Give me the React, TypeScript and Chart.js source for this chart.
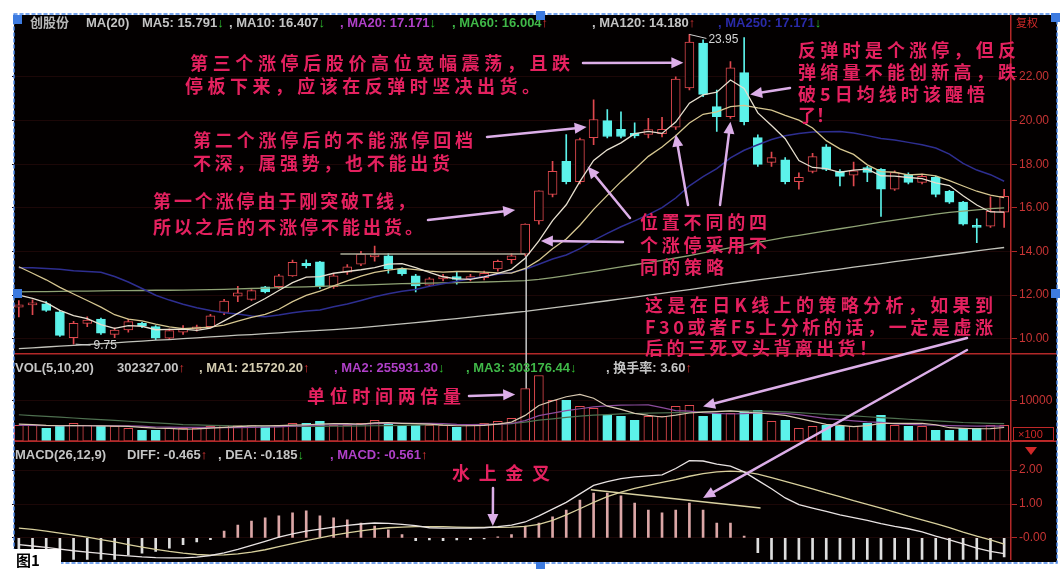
import React, { useEffect, useRef } from 'react';
import { Chart, registerables } from 'chart.js';

Chart.register(...registerables);

// ---------------- data ----------------
const OPEN = [11.45, 11.55, 11.6, 11.23, 10.05, 10.7, 10.9, 10.2, 10.4, 10.7, 10.55, 10.02, 10.3, 10.45, 10.55, 11.2, 11.95, 11.8, 12.38, 12.38, 12.88, 13.45, 13.52, 12.38, 13.05, 13.42, 13.75, 13.8, 13.2, 12.88, 12.45, 12.74, 12.85, 12.75, 12.8, 13.2, 13.62, 13.88, 15.4, 16.62, 18.13, 17.2, 19.22, 20.0, 19.6, 19.42, 19.36, 19.4, 19.7, 21.5, 23.55, 20.64, 20.18, 22.2, 19.22, 18.08, 18.2, 17.2, 17.67, 18.8, 17.67, 17.5, 17.85, 17.76, 16.85, 17.53, 17.17, 17.4, 16.76, 16.26, 15.15, 15.16, 15.8];
const HIGH = [11.75, 11.78, 11.7, 11.3, 10.8, 11.0, 10.95, 10.5, 10.9, 10.75, 10.6, 10.45, 10.6, 10.62, 11.12, 11.8, 12.4, 12.25, 12.4, 12.95, 13.6, 13.62, 13.55, 12.95, 13.4, 14.0, 14.25, 13.9, 13.25, 12.95, 12.8, 12.95, 13.05, 12.95, 13.1, 13.6, 13.9, 15.27, 16.78, 18.13, 19.36, 19.2, 20.95, 20.5, 20.4, 19.9, 20.1, 20.15, 22.0, 23.95, 23.7, 21.4, 22.7, 23.8, 19.35, 18.55, 18.3, 17.6, 18.5, 18.9, 17.75, 18.1, 17.9, 17.8, 17.7, 17.6, 17.55, 17.45, 16.8, 16.3, 15.5, 16.5, 16.85];
const LOW = [11.0, 11.1, 11.25, 10.1, 9.75, 10.55, 10.2, 10.05, 10.3, 10.5, 9.95, 9.95, 10.2, 10.35, 10.5, 11.1, 11.7, 11.75, 12.1, 12.3, 12.85, 13.25, 12.3, 12.3, 12.95, 13.35, 13.55, 13.0, 12.9, 12.15, 12.4, 12.65, 12.5, 12.65, 12.7, 13.1, 13.45, 13.8, 15.25, 16.5, 17.1, 17.1, 18.9, 19.2, 19.2, 19.2, 19.2, 19.25, 19.6, 21.4, 21.1, 19.5, 20.1, 19.8, 17.9, 17.9, 17.1, 16.85, 17.6, 17.7, 17.0, 17.0, 17.2, 15.6, 16.8, 17.1, 17.1, 16.5, 16.2, 15.2, 14.4, 15.1, 15.1];
const CLOSE = [11.55, 11.62, 11.3, 10.15, 10.7, 10.85, 10.25, 10.4, 10.78, 10.58, 10.02, 10.37, 10.45, 10.5, 11.05, 11.72, 12.1, 12.2, 12.15, 12.88, 13.5, 13.35, 12.38, 12.88, 13.3, 13.88, 13.85, 13.2, 12.97, 12.42, 12.74, 12.85, 12.72, 12.85, 13.0, 13.55, 13.8, 15.25, 16.78, 17.67, 17.2, 19.13, 20.05, 19.27, 19.27, 19.3, 19.59, 19.6, 21.9, 23.6, 21.2, 20.18, 22.42, 19.95, 17.99, 18.3, 17.2, 17.4, 18.35, 17.76, 17.44, 17.7, 17.62, 16.85, 17.62, 17.17, 17.44, 16.62, 16.26, 15.25, 15.1, 15.84, 16.53];

const MA5 = [12.0, 11.85, 11.65, 11.3, 11.06, 10.92, 10.65, 10.47, 10.6, 10.57, 10.41, 10.43, 10.44, 10.38, 10.48, 10.82, 11.16, 11.51, 11.84, 12.21, 12.57, 12.82, 12.85, 13.0, 13.08, 13.16, 13.26, 13.42, 13.44, 13.26, 13.04, 12.84, 12.74, 12.72, 12.83, 12.99, 13.18, 13.69, 14.48, 15.41, 16.14, 17.21, 18.17, 18.66, 18.98, 19.4, 19.5, 19.41, 19.93, 20.8, 21.18, 21.3, 21.86, 21.47, 20.35, 19.77, 19.17, 18.17, 17.85, 17.8, 17.63, 17.73, 17.77, 17.47, 17.45, 17.39, 17.34, 17.14, 17.02, 16.55, 16.13, 15.81, 15.8];
const MA10 = [13.3, 13.0, 12.7, 12.35, 12.05, 11.75, 11.45, 11.1, 10.9, 10.82, 10.67, 10.54, 10.46, 10.49, 10.53, 10.62, 10.8, 10.98, 11.11, 11.35, 11.7, 11.99, 12.18, 12.42, 12.65, 12.87, 13.04, 13.14, 13.22, 13.17, 13.1, 13.05, 13.08, 13.08, 13.05, 13.02, 13.01, 13.22, 13.6, 14.12, 14.57, 15.2, 15.93, 16.57, 17.2, 17.77, 18.36, 18.79, 19.3, 19.89, 20.29, 20.4, 20.64, 20.7, 20.58, 20.48, 20.24, 20.02, 19.66, 19.08, 18.7, 18.45, 17.97, 17.66, 17.63, 17.51, 17.54, 17.46, 17.25, 17.0, 16.76, 16.58, 16.47];
const MA20 = [13.25, 13.25, 13.22, 13.18, 13.12, 13.08, 13.05, 12.85, 12.6, 12.3, 11.99, 11.77, 11.58, 11.42, 11.29, 11.19, 11.13, 11.04, 11.01, 11.09, 11.19, 11.27, 11.32, 11.46, 11.59, 11.75, 11.92, 12.06, 12.17, 12.26, 12.4, 12.52, 12.63, 12.75, 12.85, 12.95, 13.03, 13.18, 13.41, 13.65, 13.84, 14.13, 14.51, 14.83, 15.13, 15.4, 15.69, 16.01, 16.45, 17.01, 17.43, 17.8, 18.29, 18.64, 18.89, 19.13, 19.3, 19.41, 19.48, 19.49, 19.5, 19.43, 19.31, 19.18, 19.11, 19.0, 18.89, 18.74, 18.46, 18.04, 17.73, 17.52, 17.22];
const MA60 = [12.15, 12.16, 12.16, 12.17, 12.18, 12.18, 12.19, 12.2, 12.2, 12.21, 12.22, 12.22, 12.23, 12.24, 12.25, 12.26, 12.28, 12.3, 12.32, 12.34, 12.36, 12.38, 12.4, 12.42, 12.44, 12.46, 12.48, 12.5, 12.52, 12.53, 12.55, 12.56, 12.57, 12.58, 12.6, 12.62, 12.64, 12.66, 12.72, 12.8, 12.89, 12.99, 13.09, 13.19, 13.29, 13.39, 13.49, 13.59, 13.7, 13.81, 13.93, 14.05, 14.17, 14.29, 14.42, 14.53, 14.64, 14.74, 14.84, 14.94, 15.04, 15.14, 15.24, 15.34, 15.44, 15.53, 15.62, 15.71, 15.79, 15.85, 15.91, 15.96, 16.0];
const MA120 = [9.54, 9.58, 9.62, 9.66, 9.69, 9.73, 9.77, 9.81, 9.85, 9.89, 9.93, 9.96, 10.0, 10.04, 10.08, 10.12, 10.16, 10.19, 10.23, 10.27, 10.31, 10.35, 10.38, 10.42, 10.46, 10.51, 10.56, 10.62, 10.68, 10.74, 10.8, 10.86, 10.92, 10.99, 11.06, 11.12, 11.19, 11.25, 11.33, 11.41, 11.49, 11.57, 11.66, 11.74, 11.83, 11.91, 12.0, 12.08, 12.17, 12.25, 12.34, 12.43, 12.52, 12.61, 12.7, 12.78, 12.86, 12.94, 13.03, 13.11, 13.19, 13.28, 13.36, 13.44, 13.53, 13.61, 13.69, 13.78, 13.86, 13.94, 14.03, 14.11, 14.18];

// volume in units of 100 shares
const VOL = [3900, 3900, 3170, 3900, 4390, 3900, 3660, 3660, 3170, 2680, 2680, 3170, 3170, 3170, 3660, 3900, 3900, 3900, 3660, 3900, 4390, 4390, 4880, 3900, 3900, 4390, 5120, 4390, 3900, 3900, 3900, 3900, 3400, 3900, 4390, 4880, 5610, 12900, 16100, 10000, 10000, 8540, 8050, 6340, 6100, 5120, 6100, 6100, 8540, 8780, 6100, 6830, 6830, 7320, 7560, 4880, 5120, 3170, 3660, 3900, 3660, 3660, 4390, 6340, 3900, 3660, 3660, 2680, 2680, 3170, 3170, 3900, 3900];
const VOL_MA5 = [4200, 4100, 3900, 3800, 3850, 3800, 3750, 3700, 3650, 3400, 3200, 3150, 3000, 3050, 3200, 3400, 3600, 3750, 3800, 3850, 3950, 4050, 4200, 4300, 4300, 4200, 4500, 4550, 4400, 4300, 4200, 3950, 3800, 3800, 3900, 4200, 4700, 6340, 8780, 9900, 10900, 11500, 10540, 8590, 7810, 6830, 6340, 5950, 6390, 6930, 7120, 7270, 7420, 7170, 6930, 6680, 6340, 5610, 4880, 4150, 3900, 3610, 3850, 4390, 4390, 4390, 4390, 4050, 3320, 3170, 3070, 3120, 3380];
const VOL_MA10 = [3900, 3900, 3850, 3850, 3850, 3800, 3800, 3800, 3750, 3700, 3500, 3450, 3400, 3400, 3400, 3350, 3350, 3400, 3450, 3550, 3700, 3800, 3950, 4050, 4100, 4150, 4300, 4400, 4400, 4400, 4400, 4350, 4150, 4100, 4100, 4200, 4350, 5070, 6290, 6900, 7510, 7970, 8440, 8680, 8850, 8880, 8930, 8250, 7490, 7370, 6980, 6810, 6680, 6780, 6930, 6900, 6810, 6510, 6030, 5540, 5290, 4980, 4730, 4630, 4270, 4150, 4000, 3950, 3850, 3780, 3730, 3760, 3710];
const VOL_MA20 = [6500, 6300, 6100, 5900, 5700, 5500, 5300, 5100, 4900, 4700, 4500, 4300, 4100, 4000, 3900, 3850, 3800, 3750, 3700, 3650, 3650, 3650, 3650, 3700, 3700, 3750, 3800, 3850, 3900, 3950, 4000, 4050, 4100, 4100, 4150, 4200, 4300, 4700, 5200, 5500, 5850, 6150, 6400, 6550, 6700, 6800, 6900, 6950, 7000, 7100, 7250, 7350, 7400, 7450, 7400, 7350, 7200, 7000, 6800, 6600, 6400, 6200, 6000, 5800, 5600, 5400, 5200, 5000, 4800, 4600, 4500, 4400, 4300];

const DIFF = [-0.2, -0.24, -0.28, -0.33, -0.38, -0.42, -0.46, -0.5, -0.53, -0.56, -0.58, -0.59, -0.59, -0.57, -0.52, -0.44, -0.34, -0.22, -0.1, 0.02, 0.12, 0.2, 0.26, 0.32, 0.37, 0.41, 0.44, 0.43, 0.4, 0.36, 0.3, 0.29, 0.29, 0.29, 0.3, 0.33, 0.38, 0.47, 0.65, 0.85, 1.05, 1.3, 1.55, 1.66, 1.75, 1.8, 1.83, 1.86, 2.05, 2.28, 2.27, 2.18, 2.12, 1.95, 1.7, 1.45, 1.18, 0.98, 0.88, 0.78, 0.68, 0.6, 0.52, 0.42, 0.34, 0.27, 0.18, 0.05, -0.06, -0.18, -0.3, -0.4, -0.465];
const DEA = [0.29, 0.25, 0.2, 0.14, 0.08, 0.02, -0.05, -0.12, -0.2, -0.27, -0.34, -0.4, -0.45, -0.49, -0.51, -0.5, -0.47, -0.42, -0.35, -0.26, -0.17, -0.08, 0.0, 0.08, 0.15, 0.21, 0.26, 0.3, 0.32, 0.33, 0.33, 0.33, 0.32, 0.31, 0.31, 0.31, 0.32, 0.34, 0.4, 0.52, 0.68, 0.86, 1.05, 1.22, 1.35, 1.46, 1.55, 1.64, 1.72, 1.82, 1.9, 1.95, 1.97, 1.95, 1.88, 1.78, 1.67, 1.56, 1.45, 1.33, 1.22, 1.1, 0.99, 0.88, 0.76, 0.64, 0.53, 0.42, 0.3, 0.17, 0.05, -0.06, -0.185];
const MACD = [-0.98, -0.98, -0.96, -0.94, -0.92, -0.88, -0.82, -0.76, -0.5, -0.45, -0.4, -0.3, -0.2, -0.12, -0.05, 0.2, 0.38, 0.5, 0.59, 0.65, 0.74, 0.8, 0.65, 0.59, 0.53, 0.44, 0.35, 0.24, 0.1, -0.08, -0.06, -0.08, -0.06, -0.05, -0.03, 0.03, 0.1, 0.35, 0.44, 0.62, 0.82, 1.12, 1.32, 1.32, 1.24, 1.03, 0.82, 0.74, 0.82, 1.03, 0.82, 0.44, 0.44, 0.05, -0.44, -0.7, -0.95, -1.1, -1.15, -1.12, -1.08, -1.0, -0.95, -0.92, -0.85, -0.75, -0.7, -0.74, -0.72, -0.7, -0.7, -0.68, -0.56];

const DAYS = OPEN.map((_, i) => `D${i + 1}`);

const PRICE_TICKS = [10, 12, 14, 16, 18, 20, 22];
const VOL_TICKS = [10000];
const MACD_TICKS = [0, 1, 2];
const MACD_TICK_LABELS = ['-0.00', '1.00', '2.00'];

const HIGH_LABEL = '23.95';
const LOW_LABEL = '9.75';

// ---------------- styling ----------------
const W = 1060;
const H = 569;
const RED = '#e0484e';
const CYAN = '#5cf2ea';
const AXIS_RED = '#b32828';
const TXT = '#e4215f';
const ARROW = '#dcaee8';
const HFONT = 'bold 13px "Liberation Sans", "DejaVu Sans", "Noto Sans CJK SC", sans-serif';
const CJK = 'bold 18px "Noto Sans CJK SC", sans-serif';

const isUp = (i: number) => CLOSE[i] >= OPEN[i];

function drawFit(ctx: CanvasRenderingContext2D, text: string, x: number, y: number, width: number) {
  const chars = Array.from(text);
  const ws = chars.map((c) => ctx.measureText(c).width);
  const total = ws.reduce((a, b) => a + b, 0);
  const gap = chars.length > 1 ? (width - total) / (chars.length - 1) : 0;
  let cx = x;
  chars.forEach((c, k) => {
    ctx.fillText(c, cx, y);
    cx += ws[k] + gap;
  });
}

function arrow(ctx: CanvasRenderingContext2D, x1: number, y1: number, x2: number, y2: number) {
  const a = Math.atan2(y2 - y1, x2 - x1);
  const L = 12;
  const Wd = 5.5;
  const c = Math.cos(a);
  const s = Math.sin(a);
  ctx.beginPath();
  ctx.moveTo(x1, y1);
  ctx.lineTo(x2 - L * 0.7 * c, y2 - L * 0.7 * s);
  ctx.stroke();
  ctx.beginPath();
  ctx.moveTo(x2, y2);
  ctx.lineTo(x2 - L * c + Wd * s, y2 - L * s - Wd * c);
  ctx.lineTo(x2 - L * c - Wd * s, y2 - L * s + Wd * c);
  ctx.closePath();
  ctx.fill();
}

function segs(ctx: CanvasRenderingContext2D, list: any[], y: number) {
  let cx = 0;
  for (const s of list) {
    if (s.x !== undefined) cx = s.x;
    ctx.fillStyle = s.c;
    ctx.fillText(s.t, cx, y);
    cx += ctx.measureText(s.t).width + (s.g || 0);
  }
}

const framePlugin = {
  id: 'frame',
  beforeDraw(chart: any) {
    const ctx = chart.ctx;
    ctx.save();
    ctx.fillStyle = '#ffffff';
    ctx.fillRect(0, 0, W, H);
    ctx.fillStyle = '#030000';
    ctx.fillRect(14, 15, 1043, 547);
    ctx.restore();
  },
  afterDraw(chart: any) {
    const ctx: CanvasRenderingContext2D = chart.ctx;
    const sx = chart.scales.x;
    const sy = chart.scales.y;
    const sv = chart.scales.yv;
    const sm = chart.scales.ym;
    const px = (i: number) => sx.getPixelForValue(i);
    const py = (v: number) => sy.getPixelForValue(v);
    const pv = (v: number) => sv.getPixelForValue(v);
    const pm = (v: number) => sm.getPixelForValue(v);
    ctx.save();

    // panel separators
    ctx.strokeStyle = AXIS_RED;
    ctx.lineWidth = 1.5;
    [sy.bottom, sv.bottom].forEach((yy: number) => {
      ctx.beginPath();
      ctx.moveTo(14, yy);
      ctx.lineTo(1057, yy);
      ctx.stroke();
    });

    // drawn helper lines
    ctx.lineWidth = 1.5;
    ctx.strokeStyle = '#aeae9a';
    ctx.beginPath();
    ctx.moveTo(px(23.5), py(CLOSE[25]));
    ctx.lineTo(px(37), py(CLOSE[25]));
    ctx.stroke();
    ctx.strokeStyle = '#c8c8c8';
    ctx.beginPath();
    ctx.moveTo(px(37) + 1, py(LOW[37]));
    ctx.lineTo(px(37) + 1, pv(VOL[37]));
    ctx.stroke();
    ctx.strokeStyle = '#d8d0a0';
    ctx.beginPath();
    ctx.moveTo(px(41.8), pm(1.42));
    ctx.lineTo(px(54.2), pm(0.88));
    ctx.stroke();

    // high / low markers
    ctx.strokeStyle = '#d0d0d0';
    ctx.lineWidth = 1;
    ctx.fillStyle = '#d4d4d4';
    ctx.font = '12px "Liberation Sans", sans-serif';
    ctx.textBaseline = 'middle';
    const hx = px(49);
    const hy = py(HIGH[49]);
    ctx.beginPath();
    ctx.moveTo(hx, hy);
    ctx.lineTo(hx + 17, hy + 4);
    ctx.stroke();
    ctx.fillText(HIGH_LABEL, hx + 19, hy + 5);
    const lx = px(4);
    const ly = py(LOW[4]);
    ctx.beginPath();
    ctx.moveTo(lx + 2, ly);
    ctx.lineTo(lx + 17, ly + 1);
    ctx.stroke();
    ctx.fillText(LOW_LABEL, lx + 20, ly + 2);

    // headers
    ctx.font = HFONT;
    ctx.textBaseline = 'middle';
    const G = '#c4c4c4';
    const UPC = '#e83838';
    const DNC = '#30c030';
    const PUR = '#b040c8';
    const GRN = '#40b848';
    segs(ctx, [
      { t: '创股份', x: 30, c: '#b8b8b8' },
      { t: 'MA(20)', x: 86, c: G },
      { t: 'MA5: 15.791', x: 142, c: G }, { t: '↓', c: DNC },
      { t: ', MA10: 16.407', x: 229, c: G }, { t: '↓', c: DNC },
      { t: ', MA20: 17.171', x: 340, c: PUR }, { t: '↓', c: DNC },
      { t: ', MA60: 16.004', x: 452, c: GRN }, { t: '↑', c: UPC },
      { t: ', MA120: 14.180', x: 592, c: G }, { t: '↑', c: UPC },
      { t: ', MA250: 17.171', x: 718, c: '#2a2aa8' }, { t: '↓', c: DNC },
    ], 23);
    segs(ctx, [
      { t: 'VOL(5,10,20)', x: 15, c: G },
      { t: '302327.00', x: 117, c: G }, { t: '↑', c: UPC },
      { t: ', MA1: 215720.20', x: 199, c: '#d4ccb0' }, { t: '↑', c: UPC },
      { t: ', MA2: 255931.30', x: 334, c: PUR }, { t: '↓', c: DNC },
      { t: ', MA3: 303176.44', x: 466, c: GRN }, { t: '↓', c: DNC },
      { t: ', 换手率: 3.60', x: 606, c: G }, { t: '↑', c: UPC },
    ], 368);
    segs(ctx, [
      { t: 'MACD(26,12,9)', x: 15, c: G },
      { t: 'DIFF: -0.465', x: 127, c: G }, { t: '↑', c: UPC },
      { t: ', DEA: -0.185', x: 218, c: G }, { t: '↓', c: DNC },
      { t: ', MACD: -0.561', x: 330, c: PUR }, { t: '↑', c: UPC },
    ], 455);

    // right side small marks
    ctx.fillStyle = '#d02828';
    ctx.font = '11px "Noto Sans CJK SC", sans-serif';
    ctx.fillText('复权', 1016, 23);
    ctx.strokeStyle = '#c02828';
    ctx.lineWidth = 1;
    ctx.strokeRect(1013.5, 427.5, 40, 13);
    ctx.font = '11px "Liberation Sans", sans-serif';
    ctx.fillText('×100', 1018, 434.5);
    ctx.beginPath();
    ctx.moveTo(1025, 447);
    ctx.lineTo(1037, 447);
    ctx.lineTo(1031, 455);
    ctx.closePath();
    ctx.fill();

    // annotation texts
    ctx.font = CJK;
    ctx.fillStyle = TXT;
    ctx.textBaseline = 'middle';
    const T: [string, number, number, number][] = [
      ['第三个涨停后股价高位宽幅震荡，且跌', 190, 63, 380],
      ['停板下来，应该在反弹时坚决出货。', 185, 86, 355],
      ['第二个涨停后的不能涨停回档', 193, 140, 280],
      ['不深，属强势，也不能出货', 193, 163, 257],
      ['第一个涨停由于刚突破T线，', 153, 201, 262],
      ['所以之后的不涨停不能出货。', 153, 227, 270],
      ['位置不同的四', 640, 222, 127],
      ['个涨停采用不', 640, 245, 127],
      ['同的策略', 640, 267, 84],
      ['反弹时是个涨停，但反', 798, 50, 218],
      ['弹缩量不能创新高，跌', 798, 72, 218],
      ['破5日均线时该醒悟', 798, 94, 187],
      ['了！', 798, 115, 36],
      ['这是在日K线上的策略分析，如果到', 645, 305, 348],
      ['F30或者F5上分析的话，一定是虚涨', 645, 327, 348],
      ['后的三死叉头背离出货！', 645, 348, 232],
      ['单位时间两倍量', 307, 396, 154],
      ['水上金叉', 452, 473, 98],
    ];
    T.forEach(([t, x, y, w]) => drawFit(ctx, t, x, y, w));

    // arrows
    ctx.strokeStyle = ARROW;
    ctx.fillStyle = ARROW;
    ctx.lineWidth = 2.5;
    ctx.lineCap = 'round';
    arrow(ctx, 583, 63, px(49) - 6, py(22.65));
    arrow(ctx, 487, 137, px(42) - 7, py(19.7));
    arrow(ctx, 428, 220, px(37) - 10, py(15.9));
    arrow(ctx, 630, 218, px(42) - 6, py(17.9));
    arrow(ctx, 623, 242, px(38) + 2, py(MA5[38]));
    arrow(ctx, 688, 205, px(48), py(19.36));
    arrow(ctx, 720, 205, px(52), py(19.95));
    arrow(ctx, 790, 88, px(53) + 6, py(21.2));
    arrow(ctx, 967, 338, px(50), pv(8540));
    arrow(ctx, 967, 350, px(50), pm(1.18));
    arrow(ctx, 469, 396, px(37) - 10, pv(11470));
    arrow(ctx, 493, 488, px(35) - 5, pm(0.35));

    // selection frame
    ctx.setLineDash([3, 3]);
    ctx.strokeStyle = '#4a86e8';
    ctx.lineWidth = 1.5;
    ctx.strokeRect(14, 14, 1043, 549);
    ctx.setLineDash([]);
    ctx.fillStyle = '#3d7be0';
    [[13, 15], [536, 11], [1051, 13], [13, 289], [1051, 289], [536, 562]].forEach(([x, y]) => ctx.fillRect(x, y, 9, 9));

    // figure label
    ctx.fillStyle = '#ffffff';
    ctx.fillRect(13, 549, 48, 20);
    ctx.fillStyle = '#000000';
    ctx.font = 'bold 15px "Noto Sans CJK SC", sans-serif';
    ctx.fillText('图1', 16, 560);
    ctx.restore();
  },
};

function yAxis(extra: any) {
  return {
    type: 'linear',
    position: 'right',
    stack: 'panels',
    border: { color: AXIS_RED, width: 1.5 },
    grid: { color: '#1c0707', lineWidth: 1, tickColor: AXIS_RED, tickLength: 6, drawOnChartArea: true },
    afterFit: (s: any) => {
      s.width = 49;
    },
    ...extra,
  };
}

const tickStyle = {
  color: '#c83434',
  font: { family: '"Liberation Sans", sans-serif', size: 12 },
  padding: 2,
  autoSkip: false,
};

export default function App() {
  const ref = useRef<HTMLCanvasElement>(null);
  useEffect(() => {
    const canvas = ref.current as HTMLCanvasElement;
    const upCol = OPEN.map((_, i) => (isUp(i) ? RED : CYAN));
    const bodyFill = OPEN.map((_, i) => (isUp(i) ? '#030000' : CYAN));
    const bar = { grouped: false, borderSkipped: false, clip: 0 };
    const line = (data: number[], color: string, axis: string, w = 1.3) => ({
      type: 'line',
      data,
      yAxisID: axis,
      borderColor: color,
      borderWidth: w,
      pointRadius: 0,
      tension: 0,
      order: 0,
      clip: 0,
    });
    const chart = new Chart(canvas, {
      type: 'bar',
      data: {
        labels: DAYS,
        datasets: [
          { ...bar, type: 'bar', data: LOW.map((l, i) => [l, HIGH[i]]), yAxisID: 'y', backgroundColor: upCol, borderWidth: 0, barThickness: 1, order: 2 },
          { ...bar, type: 'bar', data: OPEN.map((o, i) => [o, CLOSE[i]]), yAxisID: 'y', backgroundColor: bodyFill, borderColor: upCol, borderWidth: 1, barThickness: 9, minBarLength: 2, order: 1 },
          line(MA5, '#e6dece', 'y'),
          line(MA10, '#d6c690', 'y'),
          line(MA20, '#2e2e90', 'y', 1.5),
          line(MA60, '#8fa274', 'y'),
          line(MA120, '#c2c2ba', 'y'),
          { ...bar, type: 'bar', data: VOL, yAxisID: 'yv', backgroundColor: bodyFill, borderColor: upCol, borderWidth: 1, barThickness: 9, order: 1 },
          line(VOL_MA5, '#d8c8b0', 'yv', 1.2),
          line(VOL_MA10, '#8c4c9c', 'yv', 1.2),
          line(VOL_MA20, '#4f7050', 'yv', 1.2),
          { ...bar, type: 'bar', data: MACD, yAxisID: 'ym', backgroundColor: MACD.map((v) => (v >= 0 ? '#dca6a6' : '#dedede')), borderWidth: 0, barThickness: 2, order: 1 },
          line(DIFF, '#e8e2e2', 'ym', 1.3),
          line(DEA, '#d8cf9c', 'ym', 1.3),
        ] as any,
      },
      options: {
        responsive: false,
        animation: false,
        devicePixelRatio: 1,
        events: [],
        layout: { padding: { left: 12, right: 0, top: 15, bottom: 7 } },
        plugins: { legend: { display: false }, tooltip: { enabled: false } },
        scales: {
          x: { type: 'category', display: false, offset: true, grid: { display: false } },
          y: yAxis({
            stackWeight: 340,
            min: 9.315,
            max: 24.84,
            afterBuildTicks: (s: any) => {
              s.ticks = PRICE_TICKS.map((v) => ({ value: v }));
            },
            ticks: { ...tickStyle, callback: (v: any) => Number(v).toFixed(2) },
          }),
          yv: yAxis({
            stackWeight: 88,
            min: 0,
            max: 21460,
            afterBuildTicks: (s: any) => {
              s.ticks = VOL_TICKS.map((v) => ({ value: v }));
            },
            ticks: { ...tickStyle, callback: (v: any) => String(v) },
          }),
          ym: yAxis({
            stackWeight: 119,
            min: -0.647,
            max: 2.853,
            afterBuildTicks: (s: any) => {
              s.ticks = MACD_TICKS.map((v) => ({ value: v }));
            },
            ticks: { ...tickStyle, callback: (v: any) => MACD_TICK_LABELS[MACD_TICKS.indexOf(Number(v))] ?? '' },
          }),
        },
      } as any,
      plugins: [framePlugin as any],
    });
    return () => chart.destroy();
  }, []);
  return (
    <div style={{ position: 'absolute', left: 0, top: 0, width: W, height: H, background: '#fff' }}>
      <canvas ref={ref} width={W} height={H} style={{ width: W, height: H, display: 'block' }} />
    </div>
  );
}
